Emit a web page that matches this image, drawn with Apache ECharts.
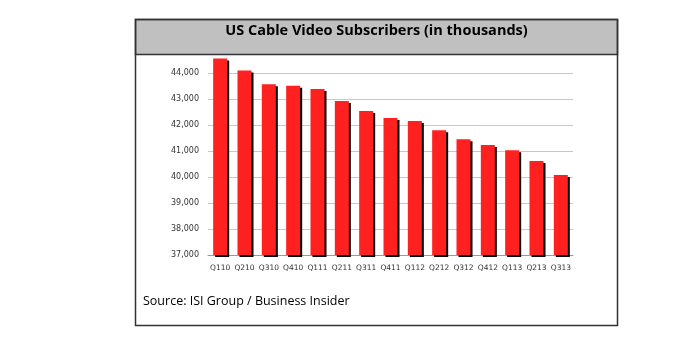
<!DOCTYPE html>
<html><head><meta charset="utf-8">
<script src="https://cdn.jsdelivr.net/npm/echarts@6/dist/echarts.min.js"></script>
<style>html,body{margin:0;padding:0;background:#fff}#c{width:686px;height:357px}</style>
</head><body><div id="c"></div>
<script>
const categories = ['Q110','Q210','Q310','Q410','Q111','Q211','Q311','Q411','Q112','Q212','Q312','Q412','Q113','Q213','Q313'];
const subscribers = [44560,44100,43565,43510,43385,42925,42540,42270,42150,41795,41450,41230,41030,40615,40080];
const titleText = 'US Cable Video Subscribers (in thousands)';
const sourceText = 'Source: ISI Group / Business Insider';

const chart = echarts.init(document.getElementById('c'), null, {renderer:'canvas'});
chart.setOption({
  animation: false,
  backgroundColor: '#fff',
  grid: {left: 208, right: 113, top: 47, bottom: 102},
  xAxis: {
    type: 'category', data: categories,
    axisLine: {lineStyle: {color: '#999'}},
    axisTick: {show: false},
    axisLabel: {color: '#333', fontSize: 7.5, fontFamily: 'DejaVu Sans', margin: 9, interval: 0}
  },
  yAxis: {
    type: 'value', min: 37000, max: 45000, interval: 1000,
    axisLine: {show: false}, axisTick: {show: false},
    splitLine: {lineStyle: {color: '#c8c8c8', width: 1}},
    axisLabel: {color: '#333', fontSize: 8, fontFamily: 'DejaVu Sans', margin: 9,
      formatter: v => v >= 45000 ? '' : v.toLocaleString('en-US')}
  },
  series: [{
    type: 'bar', data: subscribers, barWidth: 14,
    itemStyle: {color: '#ff2020', shadowColor: '#000', shadowOffsetX: 2, shadowOffsetY: 2, shadowBlur: 0}
  }],
  graphic: [
    {type: 'rect', z: 100, shape: {x: 135.5, y: 19.5, width: 482, height: 306},
     style: {fill: 'none', stroke: '#333', lineWidth: 1.5}},
    {type: 'rect', z: 99, shape: {x: 135.5, y: 19.5, width: 482, height: 35},
     style: {fill: '#c0c0c0', stroke: '#333', lineWidth: 1.5}},
    {type: 'text', z: 101,
     style: {text: titleText, x: 376.5, y: 31, textAlign: 'center', textVerticalAlign: 'middle', fill: '#000', font: 'bold 14.5px "Open Sans"'}},
    {type: 'text', z: 101,
     style: {text: sourceText, x: 143, y: 301, textVerticalAlign: 'middle', fill: '#000', font: '12.5px "Open Sans"'}}
  ]
});
</script></body></html>
